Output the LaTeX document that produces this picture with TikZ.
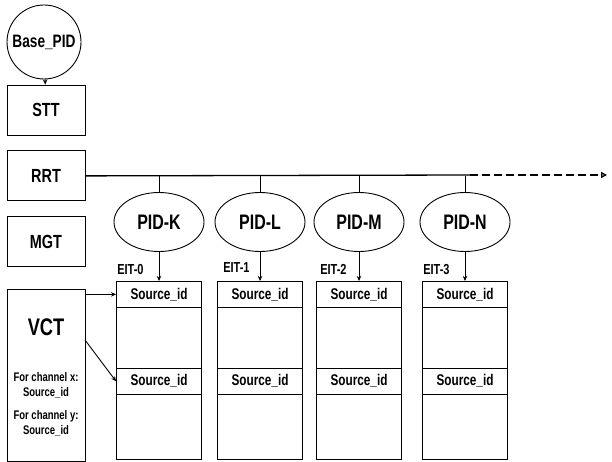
\documentclass[tikz,border=0pt]{standalone}
\usepackage{fontspec}
\setmainfont{Liberation Sans}[FakeStretch=0.76]
\usetikzlibrary{arrows.meta, positioning, shapes.geometric}

\begin{document}
\begin{tikzpicture}[
    x=1pt, y=-1pt,
    node distance=15pt,
    leftbox/.style={draw, line width=0.9pt, minimum width=78pt, minimum height=50pt, font=\bfseries\fontsize{19}{20}\selectfont},
    pidell/.style={draw, ellipse, line width=0.9pt, minimum width=90pt, minimum height=59pt, inner sep=0pt, font=\bfseries\fontsize{21}{22}\selectfont},
    eittab/.style={draw, line width=0.9pt, minimum width=85pt, minimum height=178pt},
    srcrow/.style={draw, line width=0.9pt, minimum width=85pt, minimum height=26pt, anchor=north, font=\bfseries\fontsize{15.5}{16}\selectfont},
    eitlbl/.style={anchor=base west, inner sep=0pt, font=\bfseries\fontsize{14.5}{15}\selectfont},
    arrow/.style={-{Stealth[length=5pt, width=4.5pt]}, line width=0.9pt}
]
    \useasboundingbox (0,0) rectangle (612,462);

    % left column
    \node[draw, circle, line width=0.9pt, minimum size=74pt, inner sep=0pt, font=\bfseries\fontsize{18}{18}\selectfont] (base) at (44,42) {Base\_PID};
    \node[leftbox] (stt) at (46,110) {STT};
    \node[leftbox, below=of stt] (rrt) {RRT};
    \node[leftbox, below=of rrt] (mgt) {MGT};
    \node[leftbox, minimum height=172pt, below=22pt of mgt] (vct) {};
    \node[font=\bfseries\fontsize{24}{24}\selectfont] (vctname) at (46,327) {VCT};
    \node[align=center, font=\bfseries\fontsize{12.5}{15}\selectfont] (chx) at (46,385) {For channel x:\\Source\_id};
    \node[align=center, font=\bfseries\fontsize{12.5}{15}\selectfont] (chy) at (46,423) {For channel y:\\Source\_id};

    % PIDs carried in the RRT
    \node[pidell] (pidk) at (159,222) {PID-K};
    \node[pidell] (pidl) at (260,222) {PID-L};
    \node[pidell] (pidm) at (359,222) {PID-M};
    \node[pidell] (pidn) at (465,222) {PID-N};

    % EIT tables
    \node[eittab, below=29pt of pidk] (tabk) {};
    \node[eittab, below=29pt of pidl] (tabl) {};
    \node[eittab, below=29pt of pidm] (tabm) {};
    \node[eittab, below=29pt of pidn] (tabn) {};

    \node[srcrow] (srck1) at (tabk.north) {Source\_id};
    \node[srcrow, below=60pt of srck1] (srck2) {Source\_id};
    \node[srcrow] (srcl1) at (tabl.north) {Source\_id};
    \node[srcrow, below=60pt of srcl1] (srcl2) {Source\_id};
    \node[srcrow] (srcm1) at (tabm.north) {Source\_id};
    \node[srcrow, below=60pt of srcm1] (srcm2) {Source\_id};
    \node[srcrow] (srcn1) at (tabn.north) {Source\_id};
    \node[srcrow, below=60pt of srcn1] (srcn2) {Source\_id};

    \node[eitlbl] (eitk) at ([xshift=1pt, yshift=6pt]tabk.north west) {EIT-0};
    \node[eitlbl] (eitl) at ([xshift=6pt, yshift=8pt]tabl.north west) {EIT-1};
    \node[eitlbl] (eitm) at ([xshift=4pt, yshift=6pt]tabm.north west) {EIT-2};
    \node[eitlbl] (eitn) at ([xshift=1pt, yshift=6pt]tabn.north west) {EIT-3};

    % connectors
    \coordinate (dashstart) at (470,175);
    \coordinate (rrtend) at (607,175);
    \coordinate (chxout) at (85,340);

    \draw[arrow] (base) -- (stt);
    \draw[line width=1.3pt] (rrt.east) -- (dashstart);
    \draw[line width=1.3pt, dash pattern=on 8pt off 4pt, -{Triangle[open, length=6pt, width=6pt]}] (dashstart) -- (rrtend);

    \draw[line width=0.7pt] (pidk |- rrt.east) -- (pidk);
    \draw[line width=0.7pt] (pidl |- rrt.east) -- (pidl);
    \draw[line width=0.7pt] (pidm |- rrt.east) -- (pidm);
    \draw[line width=0.7pt] (pidn |- rrt.east) -- (pidn);

    \draw[arrow] (pidk) -- (tabk);
    \draw[arrow] (pidl) -- (tabl);
    \draw[arrow] (pidm) -- (tabm);
    \draw[arrow] (pidn) -- (tabn);

    \draw[arrow] (vct.east |- srck1) -- (srck1);
    \draw[arrow] (chxout) -- (srck2.west);
\end{tikzpicture}
\end{document}
